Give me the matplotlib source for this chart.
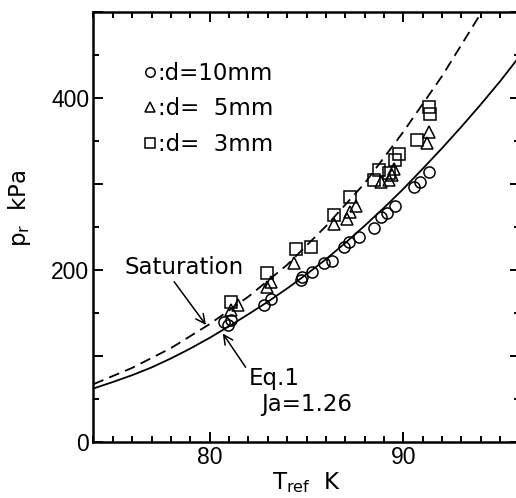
import matplotlib
matplotlib.use("Agg")
import matplotlib.pyplot as plt
from matplotlib.ticker import MultipleLocator, FuncFormatter

plt.rcParams['font.family'] = ['Liberation Sans', 'DejaVu Sans']
WIDE = ['DejaVu Sans']  # the figure's lettering is wider than Arial

# saturation curve (dashed) and Eq.1 curve (solid)
t_sat = [74, 76, 78, 80, 82, 84, 86, 88, 90, 92, 94, 94.5]
p_sat = [67, 86, 109, 137, 169, 206, 251, 301, 361, 426, 499, 520]

t_eq1 = [74, 75, 76, 77, 78, 79, 80, 81, 82, 83, 84, 85,
         86, 87, 88, 89, 90, 91, 92, 93, 94, 95, 96]
p_eq1 = [62, 69.5, 77.5, 86.5, 97, 108.5, 121, 134.5, 148.5, 163, 178.5, 195,
         212.5, 231.5, 251.5, 272.5, 294.5, 318, 342, 367, 393, 420, 449]

# measured points
t_d10 = [80.75, 81.10, 80.93, 82.81, 83.15, 84.70, 84.78, 85.30, 85.90, 86.33,
         86.93, 87.19, 87.70, 88.47, 88.82, 89.16, 89.59, 90.53, 90.87, 91.30]
p_d10 = [140, 142, 136, 159, 166, 188, 192, 198, 208, 211,
         227, 233, 239, 249, 262, 266, 274, 297, 303, 314]

t_d5 = [81.10, 81.44, 82.98, 83.15, 84.35, 86.41, 87.10, 87.27, 87.53,
        88.82, 89.24, 89.41, 89.50, 91.22, 91.30]
p_d5 = [153, 159, 180, 186, 208, 254, 260, 268, 274,
        303, 305, 311, 318, 348, 361]

t_d3 = [81.10, 82.98, 84.44, 85.21, 86.41, 87.27, 88.47, 88.73, 89.24,
        89.59, 89.76, 90.70, 91.30, 91.39]
p_d3 = [163, 196, 225, 227, 264, 285, 305, 316, 313,
        328, 335, 351, 390, 382]

fig = plt.figure(figsize=(5.16, 4.98), dpi=100)
ax = fig.add_axes([0.181, 0.113, 0.826, 0.862])

ax.plot(t_sat, p_sat, color='black', lw=1.3, dashes=[6, 3.5])
ax.plot(t_eq1, p_eq1, color='black', lw=1.3)

mk = dict(linestyle='none', markerfacecolor='none', markeredgecolor='black',
          markeredgewidth=1.1, markersize=8)
ax.plot(t_d10, p_d10, marker='o', label=':d=10mm', **mk)
ax.plot(t_d5, p_d5, marker='^', label=':d=  5mm', **mk)
ax.plot(t_d3, p_d3, marker='s', label=':d=  3mm', **mk)

ax.set_xlim(74, 96)
ax.set_ylim(0, 500)
ax.xaxis.set_major_locator(MultipleLocator(10))
ax.xaxis.set_minor_locator(MultipleLocator(1))
ax.yaxis.set_major_locator(MultipleLocator(100))
ax.yaxis.set_minor_locator(MultipleLocator(50))
ax.yaxis.set_major_formatter(FuncFormatter(
    lambda v, pos: f'{v:.0f}' if v % 200 == 0 else ''))
ax.tick_params(which='both', direction='in', top=True, right=True,
               width=1.4, labelsize=16.5)
ax.tick_params(which='major', length=7, pad=3)
ax.tick_params(which='minor', length=4)
for sp in ax.spines.values():
    sp.set_linewidth(1.8)

ax.set_xlabel(r'T$_{\rm ref}$  K', fontsize=16.5, labelpad=1, family=WIDE)
ax.set_ylabel(r'p$_{\rm r}$  kPa', fontsize=16.5, family=WIDE)
ax.yaxis.set_label_coords(-0.141, 0.544)

ax.annotate('Saturation', xy=(79.81, 136), xytext=(75.6, 203),
            fontsize=16.5, va='center', ha='left', family=WIDE,
            arrowprops=dict(arrowstyle='->', color='black', lw=1.1,
                            shrinkA=0, shrinkB=0, relpos=(0.4, 0)))
ax.annotate('Eq.1', xy=(80.68, 126), xytext=(82.0, 74),
            fontsize=16.5, va='center', ha='left', family=WIDE,
            arrowprops=dict(arrowstyle='->', color='black', lw=1.1,
                            shrinkA=0, shrinkB=0, relpos=(0, 0.8)))
ax.text(82.65, 43, 'Ja=1.26', fontsize=16.5, va='center', ha='left',
        family=WIDE)

ax.legend(loc='upper left', bbox_to_anchor=(0.12, 0.885), frameon=False,
          prop={'family': WIDE, 'size': 16.5}, handlelength=0.5,
          handletextpad=0.08, labelspacing=0.55, borderpad=0,
          borderaxespad=0, markerscale=0.85)

fig.savefig('out.png', dpi=100)
